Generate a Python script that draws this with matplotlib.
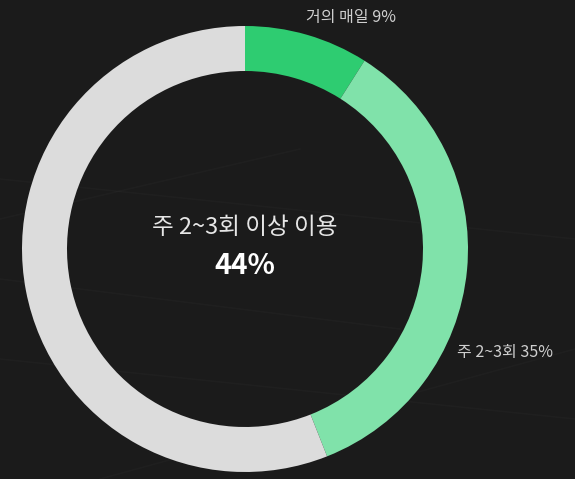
# Donut chart - weekly usage frequency (dark card style)

import numpy as np
import matplotlib.pyplot as plt

plt.rcParams["font.family"] = ["Noto Sans CJK KR", "DejaVu Sans"]

# Data
labels = ["거의 매일", "주 2~3회", "기타"]
shares = [9, 35, 56]
colors = ["#2ecc71", "#80e2aa", "#dcdcdc"]
center_title = "주 2~3회 이상 이용"
center_value = f"{shares[0] + shares[1]}%"

W, H = 575, 479
cx, cy = 245, H - 249
r_out, ring = 223, 45

fig = plt.figure(figsize=(W / 100, H / 100), dpi=100, facecolor="#1b1b1b")
ax = fig.add_axes([0, 0, 1, 1])
ax.set_facecolor("#1b1b1b")

# faint background streaks
for x0, y0, x1, y1 in [(0, 300, 575, 240), (0, 200, 400, 150), (0, 120, 575, 60),
                       (100, 0, 575, 130), (0, 260, 300, 330)]:
    ax.plot([x0, x1], [y0, y1], color="white", alpha=0.02, lw=1.2, zorder=0)

ax.pie(
    shares,
    colors=colors,
    startangle=90,
    counterclock=False,
    center=(cx, cy),
    radius=r_out,
    wedgeprops=dict(width=ring, linewidth=0),
    frame=True,
)

ax.set_xlim(0, W)
ax.set_ylim(0, H)
ax.set_aspect("equal")
ax.axis("off")

# centre text
ax.text(cx, H - 227, center_title, ha="center", va="center",
        color="#e6e6e6", fontsize=17)
ax.text(cx, H - 266, center_value, ha="center", va="center",
        color="white", fontsize=20.5, fontweight="bold")

# segment labels
ax.text(351, H - 17, f"{labels[0]} {shares[0]}%", ha="center", va="center",
        color="#cfcfcf", fontsize=11.5)
ax.text(505, H - 352, f"{labels[1]} {shares[1]}%", ha="center", va="center",
        color="#cfcfcf", fontsize=11.5)

fig.savefig("out.png", dpi=100, facecolor=fig.get_facecolor())
plt.close(fig)
